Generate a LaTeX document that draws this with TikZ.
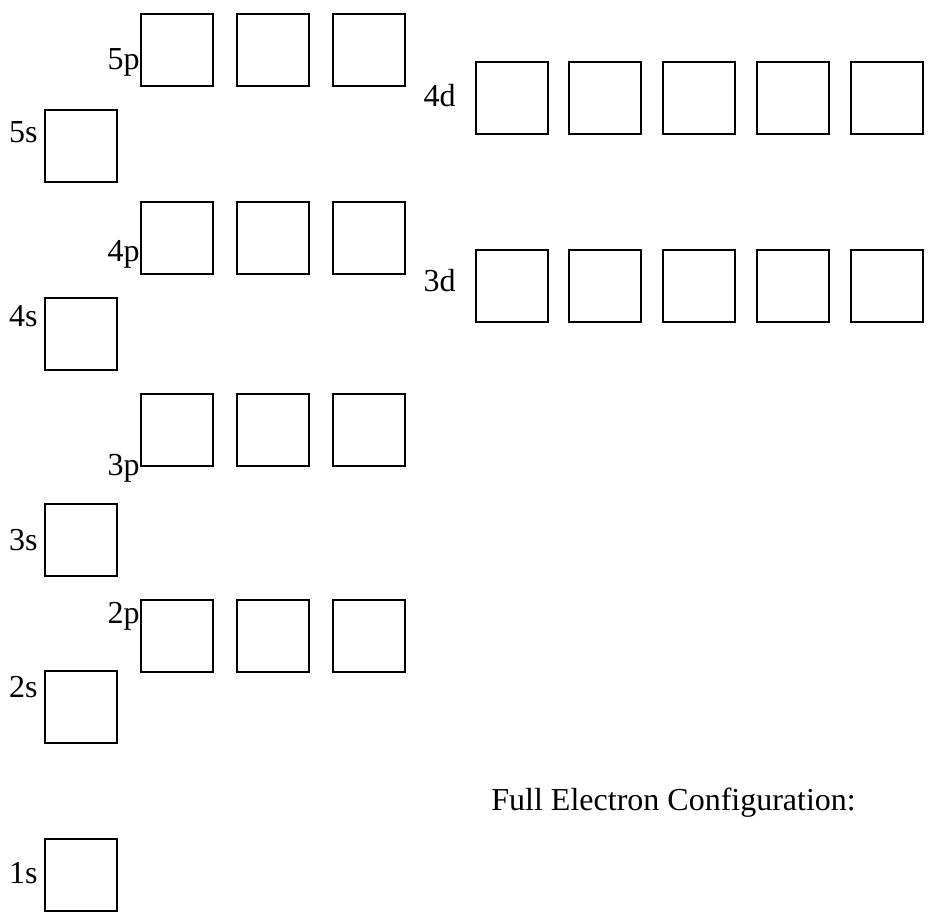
\documentclass[tikz,border=0pt]{standalone}
\usepackage{fontspec}
\setmainfont{Liberation Serif}
\usetikzlibrary{positioning}

\begin{document}
\begin{tikzpicture}[x=0.5pt,y=-0.5pt,
    orb/.style={draw,line width=0.8pt,minimum size=36pt,inner sep=0pt,anchor=north west},
    lbl/.style={inner sep=0pt,anchor=base east,font=\fontsize{16}{19}\selectfont}]
      \useasboundingbox (0,0) rectangle (935,913);

      % s orbitals
      \node [orb] (s5) at (44,109) {};
      \node [orb] (s4) at (44,297) {};
      \node [orb] (s3) at (44,503) {};
      \node [orb] (s2) at (44,670) {};
      \node [orb] (s1) at (44,838) {};
      \node [lbl] (l5s) at (38,143) {5s};
      \node [lbl] (l4s) at (38,327) {4s};
      \node [lbl] (l3s) at (38,550) {3s};
      \node [lbl] (l2s) at (38,697) {2s};
      \node [lbl] (l1s) at (38,883) {1s};

      % p orbitals
      \foreach \n/\y in {5/13,4/201,3/393,2/599}
        \foreach \i/\x in {1/140,2/236,3/332}
          \node [orb] (p\n-\i) at (\x,\y) {};
      \node [lbl] (l5p) at (140,70) {5p};
      \node [lbl] (l4p) at (140,262) {4p};
      \node [lbl] (l3p) at (140,475) {3p};
      \node [lbl] (l2p) at (140,623) {2p};

      % d orbitals
      \foreach \n/\y in {4/61,3/249}
        \foreach \i/\x in {1/475,2/568,3/662,4/756,5/850}
          \node [orb] (d\n-\i) at (\x,\y) {};
      \node [lbl] (l4d) at (456,107) {4d};
      \node [lbl] (l3d) at (456,292) {3d};

      \node [lbl,anchor=base west] (config) at (491,810) {Full Electron Configuration:};
\end{tikzpicture}
\end{document}
